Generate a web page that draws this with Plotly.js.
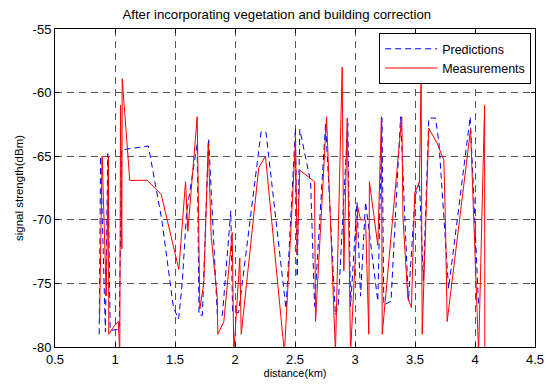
<!DOCTYPE html>
<html>
<head>
<meta charset="utf-8">
<script src="https://cdn.plot.ly/plotly-3.0.1.min.js"></script>
<style>html,body{margin:0;padding:0;background:#fff;}#chart{width:547px;height:385px;}</style>
</head>
<body>
<div id="chart"></div>
<script>
// Predictions (blue dashed)
const predX = [0.868,0.88,0.92,0.94,0.96,1.035,1.055,1.278,1.39,1.487,1.53,1.56,1.596,1.685,1.70,1.728,1.78,1.853,1.895,1.965,1.98,2.03,2.217,2.258,2.425,2.504,2.518,2.54,2.63,2.663,2.755,2.837,2.86,2.94,2.963,3.017,3.046,3.088,3.19,3.225,3.24,3.30,3.38,3.445,3.50,3.537,3.57,3.615,3.671,3.70,3.78,3.96,4.03];
const predY = [-79,-65,-78.8,-64.8,-78.7,-78.6,-64.5,-64.2,-70,-76.9,-77.8,-75,-69.5,-64,-77.5,-77.5,-63.6,-77.5,-77.5,-69.3,-77.3,-77.3,-63.1,-63.1,-77,-62.8,-74.5,-62.9,-67,-76.8,-62.4,-77.5,-76.7,-62.4,-76.8,-68.6,-76,-68.6,-76.4,-62,-76.7,-76.4,-61.9,-76.4,-68.2,-67,-74.8,-62,-62,-64,-75.4,-61.9,-76.8];
// Measurements (red solid)
const measX = [0.871,0.893,0.927,0.946,0.948,0.99,1.027,1.04,1.046,1.057,1.06,1.123,1.268,1.385,1.532,1.588,1.607,1.685,1.707,1.74,1.777,1.802,1.852,1.857,1.907,1.977,1.99,2.04,2.052,2.198,2.254,2.412,2.504,2.518,2.54,2.663,2.671,2.763,2.837,2.893,2.907,2.935,2.963,3.023,3.046,3.088,3.115,3.12,3.19,3.22,3.227,3.39,3.40,3.44,3.47,3.498,3.537,3.551,3.56,3.615,3.685,3.74,3.754,3.768,3.963,4.03,4.08,4.082];
const measY = [-78,-65,-76,-65,-79,-78.4,-78,-80.5,-61,-72.3,-58.9,-66.9,-66.9,-68,-73.9,-67,-70.9,-61.9,-77,-75,-64,-71.4,-76.1,-79,-78,-71,-80.5,-73,-79,-65.9,-65,-80.5,-63.8,-72.7,-66.1,-67,-78,-61.9,-80.5,-58,-74,-62,-80.5,-69,-70,-70,-79,-67,-72,-61.9,-79,-61.9,-69.9,-76.1,-76.9,-67.9,-67,-58.9,-79,-62.8,-64,-65.3,-70.3,-78,-62.9,-80.5,-61,-80.5];

const xTickVals = [0.5,1,1.5,2,2.5,3,3.5,4,4.5];
const xTickText = ['0.5','1','1.5','2','2.5','3','3.5','4','4.5'];
const yTickVals = [-80,-75,-70,-65,-60,-55];
const yTickText = ['-80','-75','-70','-65','-60','-55'];

const FONT = 'Liberation Sans, Arial, sans-serif';

const traces = [
  {x: predX, y: predY, type: 'scatter', mode: 'lines', name: 'Predictions',
   line: {color: '#0000ff', width: 1, dash: '6px,4px'}},
  {x: measX, y: measY, type: 'scatter', mode: 'lines', name: 'Measurements',
   line: {color: '#ff0000', width: 1}}
];

const axisCommon = {
  showline: true, linecolor: '#000', linewidth: 1, mirror: 'ticks',
  ticks: 'inside', ticklen: 4, tickcolor: '#000', tickwidth: 1,
  showgrid: true, gridcolor: '#555', gridwidth: 1, griddash: '7px,5px',
  zeroline: false, tickfont: {family: FONT, size: 13, color: '#000'},
  tickmode: 'array'
};

const layout = {
  width: 547, height: 385,
  margin: {l: 55, r: 12, t: 29, b: 38},
  paper_bgcolor: '#fff', plot_bgcolor: '#fff',
  font: {family: FONT, size: 11, color: '#000'},
  title: {text: 'After incorporating vegetation and building correction',
          font: {family: FONT, size: 13.2, color: '#000'},
          x: 0.506, xanchor: 'center', y: 0.963, yanchor: 'middle'},
  xaxis: Object.assign({}, axisCommon, {
    range: [0.5, 4.5], tickvals: xTickVals, ticktext: xTickText,
    title: {text: 'distance(km)', font: {family: FONT, size: 11, color: '#000'}, standoff: 2}
  }),
  yaxis: Object.assign({}, axisCommon, {
    range: [-80, -55], tickvals: yTickVals, ticktext: yTickText,
    title: {text: 'signal strength(dBm)', font: {family: FONT, size: 11.5, color: '#000'}, standoff: 6}
  }),
  showlegend: true,
  legend: {x: 0.992, xanchor: 'right', y: 0.987, yanchor: 'top',
           bgcolor: '#fff', bordercolor: '#000', borderwidth: 1,
           font: {family: FONT, size: 12.5, color: '#000'}, itemwidth: 52}
};

Plotly.newPlot('chart', traces, layout, {displayModeBar: false, staticPlot: true});
</script>
</body>
</html>
